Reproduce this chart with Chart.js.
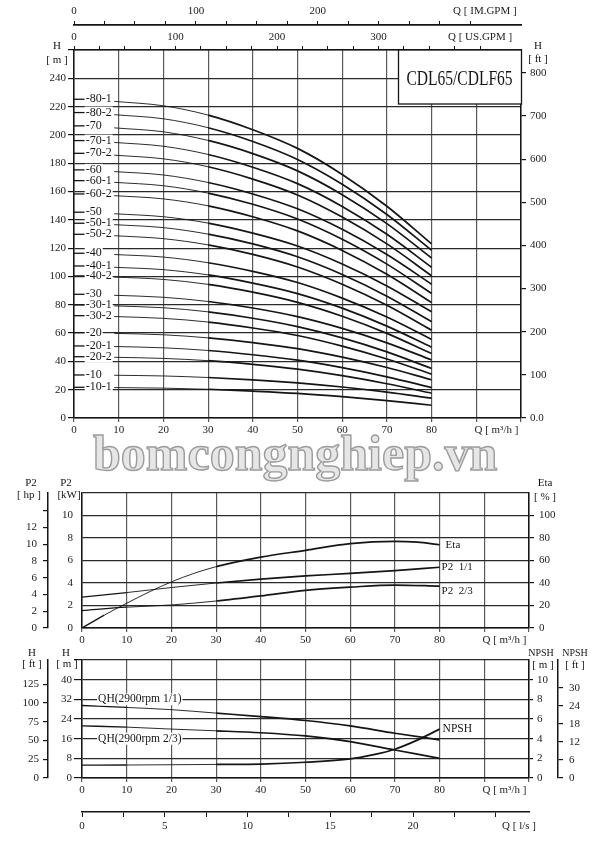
<!DOCTYPE html>
<html>
<head>
<meta charset="utf-8">
<script src="https://cdn.jsdelivr.net/npm/chart.js@4.4.1/dist/chart.umd.min.js"></script>
<style>
  body { margin: 0; background: #fff; }
  #page { position: relative; width: 594px; height: 843px; overflow: hidden; background: #fff; }
  canvas { position: absolute; left: 0; }
  #qhChart { top: 0; }
  #powerChart { top: 470px; }
  #npshChart { top: 645px; }
  #mark {
    position: absolute; left: 93px; top: 428px; z-index: 5;
    font: bold 50px "Liberation Serif", serif; line-height: 1;
    color: #e6e6e6; -webkit-text-stroke: 1.4px #9c9c9c;
  }
</style>
</head>
<body>
<div id="page">
  <canvas id="qhChart" width="594" height="440"></canvas>
  <canvas id="powerChart" width="594" height="175"></canvas>
  <canvas id="npshChart" width="594" height="198"></canvas>
  <div id="mark">bomcongnghiep.vn</div>
</div>
<script>
/* =====================================================
   DATA
===================================================== */

// top panel: one Q-H curve per model
const modelNames = ["80-1", "80-2", "70", "70-1", "70-2", "60", "60-1", "60-2",
                    "50", "50-1", "50-2", "40", "40-1", "40-2", "30", "30-1", "30-2",
                    "20", "20-1", "20-2", "10", "10-1"];

// head at zero flow [m]
const shutoffHead = [225.2, 215.8, 206.4, 196.0, 187.0, 175.3, 167.7, 158.3,
                     145.4, 137.6, 129.8, 116.4, 107.4, 100.4, 87.4, 79.9, 72.3,
                     60.3, 50.9, 43.3, 30.4, 21.7];

// flow of the drawn curve points [m3/h]
const curveFlow = [9, 20, 30, 40, 50, 60, 70, 80];

// head at curveFlow [m]
const curveHead = [
    [223.7, 220.6, 214.0, 203.7, 190.5, 172.1, 149.6, 123.0], // 80-1
    [214.3, 211.4, 205.1, 195.4, 182.7, 165.2, 143.8, 118.5], // 80-2
    [205.0, 202.2, 196.1, 186.8, 174.6, 157.8, 137.3, 113.0], // 70
    [194.7, 192.0, 186.2, 177.2, 165.6, 149.5, 129.8, 106.5], // 70-1
    [185.7, 183.1, 177.5, 168.8, 157.6, 142.0, 123.0, 100.5], // 70-2
    [174.1, 171.7, 166.4, 158.3, 147.8, 133.3, 115.5,  94.5], // 60
    [166.5, 164.1, 158.9, 151.0, 140.6, 126.3, 108.7,  88.0], // 60-1
    [157.1, 154.8, 149.9, 142.2, 132.2, 118.4, 101.5,  81.5], // 60-2
    [144.3, 142.2, 137.7, 130.6, 121.5, 108.8,  93.3,  75.0], // 50
    [136.6, 134.5, 129.9, 123.0, 113.9, 101.4,  86.1,  68.0], // 50-1
    [128.8, 126.7, 122.3, 115.6, 106.7,  94.5,  79.6,  62.0], // 50-2
    [115.5, 113.7, 109.7, 103.6,  95.7,  84.7,  71.3,  55.5], // 40
    [106.5, 104.8, 101.1,  95.3,  87.9,  77.6,  64.9,  50.0], // 40-1
    [ 99.6,  97.9,  94.4,  88.9,  81.7,  71.9,  59.8,  45.5], // 40-2
    [ 86.7,  85.3,  82.3,  77.7,  71.6,  63.3,  53.1,  41.0], // 30
    [ 79.2,  77.9,  75.0,  70.5,  64.6,  56.6,  46.7,  35.0], // 30-1
    [ 71.7,  70.4,  67.8,  63.6,  58.3,  50.8,  41.7,  31.0], // 30-2
    [ 59.8,  58.8,  56.6,  53.3,  49.0,  43.0,  35.7,  27.0], // 20
    [ 50.5,  49.6,  47.7,  44.7,  40.9,  35.6,  29.1,  21.5], // 20-1
    [ 42.9,  42.1,  40.5,  37.9,  34.5,  29.9,  24.2,  17.5], // 20-2
    [ 30.2,  29.7,  28.6,  27.0,  24.8,  21.9,  18.3,  14.0], // 10
    [ 21.5,  21.1,  20.3,  19.0,  17.4,  15.1,  12.3,   9.0]  // 10-1
];

// middle panel: efficiency [%] and shaft power [kW]
const etaFlow   = [0, 5, 10, 15, 20, 25, 30, 40, 50, 60, 70, 75, 80];
const etaValues = [0, 11.5, 22, 32, 41, 48.5, 54.5, 63, 69, 75, 77, 76.3, 74];

const powerFlow   = [0, 10, 20, 30, 40, 50, 60, 70, 80];
const p2Full      = [2.75, 3.15, 3.6, 4.0, 4.35, 4.63, 4.85, 5.1, 5.4];
const p2TwoThird  = [1.55, 1.85, 2.05, 2.4, 2.85, 3.35, 3.63, 3.82, 3.72];

// bottom panel: single stage head [m] and NPSH [m]
const headFlow    = [0, 10, 20, 30, 40, 50, 60, 70, 80];
const qhFull      = [29.5, 28.7, 27.8, 26.4, 25.0, 23.4, 21.2, 18.2, 15.5];
const qhTwoThird  = [21.2, 20.7, 19.9, 19.2, 18.4, 17.1, 14.8, 11.4, 8.0];

const npshFlow    = [0, 10, 20, 30, 40, 50, 60, 65, 70, 75, 80];
const npshValues  = [1.3, 1.32, 1.35, 1.38, 1.42, 1.6, 1.94, 2.35, 2.93, 3.85, 4.97];

// unit conversions for the secondary axes
const M3H_TO_USGPM = 4.4029;
const M3H_TO_IMGPM = 3.6662;
const M_TO_FT = 3.28084;
const KW_TO_HP = 1.341;


/* =====================================================
   STYLE
===================================================== */

const FONT = "'Liberation Serif', 'Times New Roman', serif";
const INK = "#151515";
const GRID_H = "#2a2a2a";
const GRID_V = "#5a5a5a";
const CLEAR = "rgba(0,0,0,0)";

Chart.defaults.font.family = FONT;
Chart.defaults.font.size = 11;
Chart.defaults.color = "#222";
Chart.defaults.animation = false;
Chart.defaults.plugins.legend.display = false;
Chart.defaults.plugins.tooltip.enabled = false;

// extra ticks that only carry an axis caption
const Q_CAPTION_AT = 94.5;
const IM_CAPTION_AT = 337;
const LS_CAPTION_AT = 26.4;

// thin outside the working range, thick inside
const segWidth = c => c.p0.parsed.x < 3 ? 1.3 : (c.p0.parsed.x < 29.5 ? 0.9 : 1.7);

function lineSet(label, points, yAxisID) {
    return {
        label, data: points, yAxisID, xAxisID: "x",
        borderColor: INK, borderWidth: 1.7, pointRadius: 0,
        cubicInterpolationMode: "monotone", fill: false,
        segment: { borderWidth: segWidth }
    };
}

const zip = (xs, ys) => xs.map((x, i) => ({ x, y: ys[i] }));

function keepTicks(maxShown, captionAt) {
    return scale => {
        scale.ticks = scale.ticks.filter(t => t.value <= maxShown + 1e-6);
        if (captionAt !== undefined) scale.ticks.push({ value: captionAt });
    };
}

const hideAt = (v, color) => c =>
    (c.tick && Math.abs(c.tick.value - v) < 1e-6) ? CLEAR : color;

function flowAxis(height) {
    return {
        type: "linear", axis: "x", position: "bottom", weight: 0,
        min: 0, max: 100,
        afterFit: s => { s.height = height; },
        afterBuildTicks: keepTicks(100, Q_CAPTION_AT),
        ticks: {
            stepSize: 10, autoSkip: false, maxRotation: 0, minRotation: 0, padding: 2,
            callback: v => v === Q_CAPTION_AT ? "Q [ m³/h ]" : (v <= 80 ? String(v) : "")
        },
        grid: { color: hideAt(Q_CAPTION_AT, GRID_V), lineWidth: 1.2, tickLength: 4 },
        border: { color: INK, width: 1.5 }
    };
}

function sideAxis(o) {
    return {
        type: "linear", axis: "y", position: o.position, weight: o.weight || 0,
        min: 0, max: o.max,
        afterFit: s => { s.width = o.width; },
        afterBuildTicks: o.keep !== undefined ? keepTicks(o.keep) : undefined,
        ticks: {
            stepSize: o.step, autoSkip: false, padding: o.padding,
            callback: o.label || (v => v <= o.show ? String(v) : "")
        },
        grid: {
            drawOnChartArea: !!o.grid, color: GRID_H, lineWidth: 1.2,
            drawTicks: o.tick > 0, tickLength: o.tick || 0, tickColor: INK
        },
        border: { color: INK, width: 1.5 }
    };
}


/* =====================================================
   PLUGINS
===================================================== */

// text written at data coordinates, optional white backing
const curveLabels = {
    id: "curveLabels",
    afterDatasetsDraw(chart, args, opts) {
        const ctx = chart.ctx;
        ctx.save();
        ctx.textBaseline = "middle";
        (opts.items || []).forEach(it => {
            ctx.font = (it.size || 11) + "px " + FONT;
            const px = chart.scales.x.getPixelForValue(it.x) + (it.dx || 0);
            const py = chart.scales[it.yAxis || "y"].getPixelForValue(it.y) + (it.dy || 0);
            const w = ctx.measureText(it.text).width;
            if (it.bg) {
                ctx.fillStyle = "#fff";
                ctx.fillRect(px - 1, py - 6, w + 2, 12);
            }
            ctx.fillStyle = INK;
            ctx.fillText(it.text, px, py);
        });
        ctx.restore();
    }
};

// axis unit captions in the corners
const unitTitles = {
    id: "unitTitles",
    afterDraw(chart, args, opts) {
        const ctx = chart.ctx;
        ctx.save();
        ctx.fillStyle = INK;
        ctx.textAlign = "center";
        ctx.textBaseline = "middle";
        (opts.items || []).forEach(it => {
            ctx.font = (it.size || 11) + "px " + FONT;
            ctx.fillText(it.text, it.x, it.y);
        });
        ctx.restore();
    }
};

// model name box, top right of the Q-H panel
const modelBox = {
    id: "modelBox",
    afterDatasetsDraw(chart, args, opts) {
        if (!opts.text) return;
        const { ctx, chartArea } = chart;
        const x = chartArea.right - opts.width, y = chartArea.top;
        ctx.save();
        ctx.fillStyle = "#fff";
        ctx.fillRect(x, y, opts.width, opts.height);
        ctx.strokeStyle = INK;
        ctx.lineWidth = 1.3;
        ctx.strokeRect(x + 0.5, y, opts.width, opts.height);
        ctx.translate(x + opts.width / 2, y + opts.height / 2 + 2);
        ctx.scale(0.74, 1);
        ctx.font = "21px " + FONT;
        ctx.textAlign = "center";
        ctx.textBaseline = "middle";
        ctx.fillStyle = INK;
        ctx.fillText(opts.text, 0, 0);
        ctx.restore();
    }
};


/* =====================================================
   TOP: Q-H CURVES
===================================================== */

const STUB_END = 2.4;

const qhSets = modelNames.map((name, i) => lineSet(name, [
    { x: 0, y: shutoffHead[i] },
    { x: STUB_END, y: shutoffHead[i] },
    { x: 5, y: null },
    ...zip(curveFlow, curveHead[i])
], "y"));

new Chart(document.getElementById("qhChart"), {
    type: "line",
    data: { datasets: qhSets },
    options: {
        responsive: false,
        layout: { padding: 0 },
        scales: {
            x: flowAxis(22),
            us: {
                type: "linear", axis: "x", position: "top", weight: 0,
                min: 0, max: 100 * M3H_TO_USGPM,
                afterFit: s => { s.height = 25; },
                afterBuildTicks: keepTicks(425),
                ticks: {
                    stepSize: 25, autoSkip: false, maxRotation: 0, padding: 2,
                    callback: v => v === 400 ? "Q [ US.GPM ]" : (v % 100 === 0 ? String(v) : "")
                },
                grid: { drawOnChartArea: false, tickLength: 4, color: INK },
                border: { color: INK, width: 1.5 }
            },
            im: {
                type: "linear", axis: "x", position: "top", weight: 1,
                min: 0, max: 100 * M3H_TO_IMGPM,
                afterFit: s => { s.height = 25; },
                afterBuildTicks: keepTicks(350, IM_CAPTION_AT),
                ticks: {
                    stepSize: 25, autoSkip: false, maxRotation: 0, padding: 3,
                    callback: v => v === IM_CAPTION_AT ? "Q [ IM.GPM ]"
                        : (v % 100 === 0 && v < 300 ? String(v) : "")
                },
                grid: { drawOnChartArea: false, tickLength: 4, color: hideAt(IM_CAPTION_AT, INK) },
                border: { color: INK, width: 1.8 }
            },
            y: sideAxis({ position: "left", max: 260, step: 20, show: 240, width: 74,
                          grid: true, tick: 6, padding: 2 }),
            ft: sideAxis({ position: "right", max: 260 * M_TO_FT, step: 100, width: 73,
                           keep: 800, tick: 5, padding: 4,
                           label: v => v === 0 ? "0.0" : String(v) })
        },
        plugins: {
            curveLabels: {
                items: modelNames.map((n, i) => ({
                    x: STUB_END, y: shutoffHead[i], dx: 1, text: "-" + n, size: 12, bg: true
                }))
            },
            unitTitles: {
                items: [
                    { text: "H", x: 57, y: 46 }, { text: "[ m ]", x: 57, y: 60 },
                    { text: "H", x: 538, y: 46 }, { text: "[ ft ]", x: 538, y: 59 }
                ]
            },
            modelBox: { text: "CDL65/CDLF65", width: 123, height: 54 }
        }
    },
    plugins: [curveLabels, unitTitles, modelBox]
});


/* =====================================================
   MIDDLE: POWER AND EFFICIENCY
===================================================== */

new Chart(document.getElementById("powerChart"), {
    type: "line",
    data: {
        datasets: [
            lineSet("Eta", zip(etaFlow, etaValues), "eta"),
            lineSet("P2 1/1", zip(powerFlow, p2Full), "y"),
            lineSet("P2 2/3", zip(powerFlow, p2TwoThird), "y")
        ]
    },
    options: {
        responsive: false,
        layout: { padding: { top: 23 } },
        scales: {
            x: flowAxis(17),
            y: sideAxis({ position: "left", max: 12, step: 2, show: 10, width: 34,
                          grid: true, tick: 0, padding: 9 }),
            hp: sideAxis({ position: "left", weight: 1, max: 12 * KW_TO_HP, step: 2, show: 12,
                           keep: 14, width: 48, tick: 5, padding: 6 }),
            eta: sideAxis({ position: "right", max: 120, step: 20, show: 100, keep: 100,
                            width: 65, tick: 5, padding: 5 })
        },
        plugins: {
            curveLabels: {
                items: [
                    { x: 80, y: etaValues[etaValues.length - 1], yAxis: "eta", dx: 6, text: "Eta" },
                    { x: 80, y: p2Full[p2Full.length - 1], dx: 2, text: "P2  1/1" },
                    { x: 80, y: p2TwoThird[p2TwoThird.length - 1], dx: 2, dy: 5, text: "P2  2/3" }
                ]
            },
            unitTitles: {
                items: [
                    { text: "P2", x: 31, y: 13 }, { text: "[ hp ]", x: 29, y: 25 },
                    { text: "P2", x: 66, y: 13 }, { text: "[kW]", x: 69, y: 25 },
                    { text: "Eta", x: 545, y: 13 }, { text: "[ % ]", x: 545, y: 27 }
                ]
            }
        }
    },
    plugins: [curveLabels, unitTitles]
});


/* =====================================================
   BOTTOM: STAGE HEAD AND NPSH
===================================================== */

new Chart(document.getElementById("npshChart"), {
    type: "line",
    data: {
        datasets: [
            lineSet("QH 1/1", zip(headFlow, qhFull), "y"),
            lineSet("QH 2/3", zip(headFlow, qhTwoThird), "y"),
            lineSet("NPSH", zip(npshFlow, npshValues), "npsh")
        ]
    },
    options: {
        responsive: false,
        layout: { padding: { top: 15 } },
        scales: {
            x: flowAxis(34),
            ls: {
                type: "linear", axis: "x", position: "bottom", weight: 1,
                min: 0, max: 27,
                afterFit: s => { s.height = 31; },
                afterBuildTicks: keepTicks(25, LS_CAPTION_AT),
                ticks: {
                    stepSize: 2.5, autoSkip: false, maxRotation: 0, padding: 3,
                    callback: v => v === LS_CAPTION_AT ? "Q [ l/s ]"
                        : (v % 5 === 0 && v <= 20 ? String(v) : "")
                },
                grid: { drawOnChartArea: false, tickLength: 5, color: hideAt(LS_CAPTION_AT, INK) },
                border: { color: INK, width: 1.5 }
            },
            y: sideAxis({ position: "left", max: 48, step: 8, show: 40, width: 34,
                          grid: true, tick: 8, padding: 2 }),
            hft: sideAxis({ position: "left", weight: 1, max: 48 * M_TO_FT, step: 25, show: 125,
                            keep: 125, width: 48, tick: 5, padding: 4 }),
            npsh: sideAxis({ position: "right", max: 12, step: 2, show: 10, keep: 10,
                             width: 29, tick: 4, padding: 4 }),
            nft: sideAxis({ position: "right", weight: 1, max: 12 * M_TO_FT, step: 6, show: 30,
                            keep: 30, width: 36, tick: 5, padding: 6 })
        },
        plugins: {
            curveLabels: {
                items: [
                    { x: 3.6, y: 32, text: "QH(2900rpm 1/1)", size: 11.5, bg: true },
                    { x: 3.6, y: 16, text: "QH(2900rpm 2/3)", size: 11.5, bg: true },
                    { x: 80, y: npshValues[npshValues.length - 1], yAxis: "npsh", dx: 3, text: "NPSH", size: 11.5 }
                ]
            },
            unitTitles: {
                items: [
                    { text: "H", x: 32, y: 8 }, { text: "[ ft ]", x: 32, y: 19 },
                    { text: "H", x: 66, y: 8 }, { text: "[ m ]", x: 67, y: 19 },
                    { text: "NPSH", x: 541, y: 8, size: 10 }, { text: "[ m ]", x: 543, y: 20 },
                    { text: "NPSH", x: 575, y: 8, size: 10 }, { text: "[ ft ]", x: 575, y: 20 }
                ]
            }
        }
    },
    plugins: [curveLabels, unitTitles]
});
</script>
</body>
</html>
